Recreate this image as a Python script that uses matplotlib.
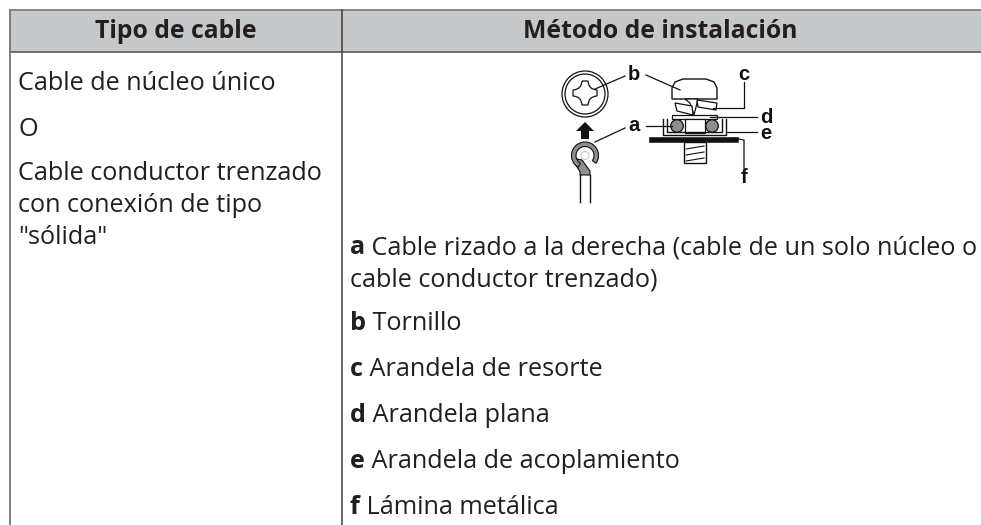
import matplotlib
matplotlib.use("Agg")
import matplotlib.pyplot as plt
from matplotlib.patches import Rectangle, Circle, Wedge, Polygon, PathPatch
from matplotlib.path import Path

headers = ["Tipo de cable", "Método de instalación"]
left_rows = [("Cable de núcleo único", 83), ("O", 129), ("Cable conductor trenzado", 174),
             ("con conexión de tipo", 206), ('"sólida"', 238)]
right_rows = [("a", " Cable rizado a la derecha (cable de un solo núcleo o", 248), ("", "cable conductor trenzado)", 280),
              ("b", " Tornillo", 324), ("c", " Arandela de resorte", 370), ("d", " Arandela plana", 416),
              ("e", " Arandela de acoplamiento", 462), ("f", " Lámina metálica", 507)]
callouts = [("b", 634, 80), ("c", 744, 80), ("d", 766, 123), ("a", 634, 131), ("e", 766, 139), ("f", 744, 183)]

FONT = "Open Sans"
SIZE = 18.15
HEAD_SIZE = 17.8
INK = "#231f20"
LINE = "#3c3c3c"

fig = plt.figure(figsize=(9.81, 5.25), dpi=100)
ax = fig.add_axes([0, 0, 1, 1])
ax.set_xlim(0, 981)
ax.set_ylim(525, 0)
ax.axis("off")

# table
ax.add_patch(Rectangle((10, 10), 971, 42, fc="#c7c8ca", ec="none"))
ax.plot([10, 981], [10, 10], color="#808080", lw=1.3)
ax.plot([10, 981], [52, 52], color="#666666", lw=1.3)
ax.plot([10, 10], [10, 525], color="#777777", lw=1.3)
ax.plot([342, 342], [10, 525], color=LINE, lw=1.1)

ax.text(176, 32, headers[0], ha="center", va="center", family=FONT, weight="bold", fontsize=HEAD_SIZE, color=INK)
ax.text(660, 32, headers[1], ha="center", va="center", family=FONT, weight="bold", fontsize=HEAD_SIZE, color=INK)

for txt, y in left_rows:
    ax.text(18, y, txt, ha="left", va="center", family=FONT, fontsize=SIZE, color=INK)

r = fig.canvas.get_renderer()
for key, txt, y in right_rows:
    x = 350
    if key:
        t = ax.text(x, y, key, ha="left", va="center", family=FONT, weight="bold", fontsize=SIZE, color=INK)
        x = t.get_window_extent(r).x1
    ax.text(x, y, txt, ha="left", va="center", family=FONT, fontsize=SIZE, color=INK)

# drawing
k = "#111111"
gray = "#8e8e8e"
# screw head (front view)
ax.add_patch(Circle((585, 94), 23, fc="white", ec=k, lw=0.9))
ax.add_patch(Circle((585, 94), 20, fc="white", ec=k, lw=0.9))
c = (585, 93)
arm = [(-3, -12), (3, -12), (12, -3), (12, 3), (3, 12), (-3, 12), (-12, 3), (-12, -3)]
verts, codes = [], []
ctrl = [(3.5, -3.5), (3.5, 3.5), (-3.5, 3.5), (-3.5, -3.5)]
verts.append((c[0] + arm[0][0], c[1] + arm[0][1])); codes.append(Path.MOVETO)
for i in range(4):
    a1 = arm[2 * i + 1]
    a2 = arm[(2 * i + 2) % 8]
    verts.append((c[0] + a1[0], c[1] + a1[1])); codes.append(Path.LINETO)
    verts.append((c[0] + ctrl[i][0], c[1] + ctrl[i][1])); codes.append(Path.CURVE3)
    verts.append((c[0] + a2[0], c[1] + a2[1])); codes.append(Path.CURVE3)
ax.add_patch(PathPatch(Path(verts, codes), fc="white", ec=k, lw=0.9))
# arrow
ax.add_patch(Polygon([(585, 122), (576, 131), (581, 131), (581, 139), (589, 139), (589, 131), (594, 131)],
                     closed=True, fc=k, ec="none"))
# ring terminal
ax.add_patch(Polygon([(572, 158), (580, 172), (580, 175), (590, 175), (590, 171), (582, 160)],
                     closed=True, fc=gray, ec=k, lw=0.8))
ax.add_patch(Wedge((585, 155.5), 13.5, 120, 395, width=4.5, fc=gray, ec=k, lw=0.8))
ax.add_patch(Circle((585, 155.5), 4, fc="none", ec="#cccccc", lw=0.8))
ax.plot([580, 580], [175, 202], color=k, lw=1)
ax.plot([590, 590], [175, 202], color=k, lw=1)

# side screw head
ax.add_patch(Polygon([(672, 99), (672, 88), (675, 82), (683, 79), (706, 79), (714, 82), (717, 88), (717, 99)],
                     closed=True, fc="white", ec=k, lw=1))
# spring washer
ax.add_patch(Polygon([(685, 99), (698, 99), (694, 115), (690, 103)], fc="white", ec=k, lw=0.9))
ax.add_patch(Polygon([(675, 103), (692, 106), (693, 115), (677, 111)], fc="white", ec=k, lw=0.9))
ax.add_patch(Polygon([(697, 100), (717, 103), (716, 110), (698, 107)], fc="white", ec=k, lw=0.9))
# flat washer
ax.add_patch(Rectangle((672, 115), 45, 4, fc="white", ec=k, lw=0.9))
# cup washer
ax.plot([663, 663, 726, 726], [119, 135, 135, 119], color=k, lw=1)
ax.plot([667, 667, 722, 722], [119, 132, 132, 119], color=k, lw=1)
ax.add_patch(Rectangle((685, 119), 20, 14, fc="white", ec=k, lw=0.9))
ax.add_patch(Circle((677, 126), 6.3, fc=gray, ec=k, lw=0.9))
ax.add_patch(Circle((712, 126), 6.3, fc=gray, ec=k, lw=0.9))
# plate
ax.add_patch(Rectangle((649, 137), 89, 5, fc=k, ec=k, lw=0.4))
# shaft
ax.add_patch(Rectangle((684, 142), 22, 21, fc="white", ec=k, lw=1))
for y in (148, 154, 160):
    ax.plot([686, 704], [y + 1, y - 2], color=k, lw=0.8)

# leader lines
for seg in [([595, 625], [89, 76]), ([646, 680], [75, 90]), ([744, 744, 713], [82, 108, 108]),
            ([757, 710], [117, 117]), ([646, 672], [126, 126]), ([595, 625], [142, 128]),
            ([757, 726], [132, 132]), ([744, 744, 733], [168, 140, 138])]:
    ax.plot(seg[0], seg[1], color=k, lw=0.9)

for key, x, y in callouts:
    ax.text(x, y, key, ha="center", va="baseline", family="Liberation Sans", weight="bold", fontsize=14.5, color=k)

fig.savefig("out.png", dpi=100)
